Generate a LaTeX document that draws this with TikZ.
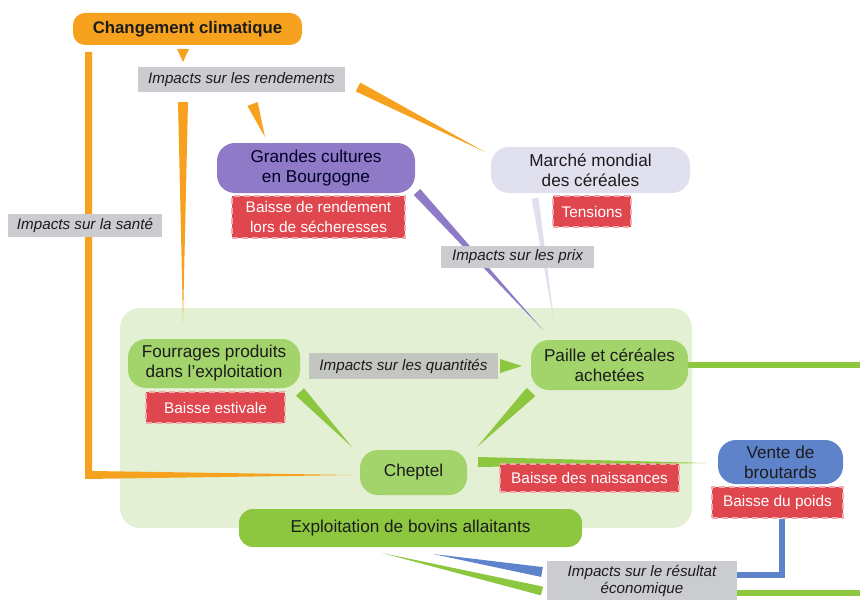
\documentclass[tikz,border=0pt]{standalone}
\usepackage{fontspec}
\setmainfont{Liberation Sans}
\usetikzlibrary{calc}
\definecolor{orangeCC}{HTML}{F6A21E}
\definecolor{grayLbl}{HTML}{CACCCF}
\definecolor{grayQ}{HTML}{C2C6BF}
\definecolor{purpleGC}{HTML}{8E7AC6}
\definecolor{lavMM}{HTML}{E1E0EF}
\definecolor{redBx}{HTML}{E0464E}
\definecolor{greenBx}{HTML}{A3D46B}
\definecolor{greenDk}{HTML}{8DC63F}
\definecolor{greenBg}{HTML}{E3F0D3}
\definecolor{blueVB}{HTML}{5F83CA}
\definecolor{txt}{HTML}{1C1C1C}
\pgfdeclarelayer{back}
\pgfdeclarelayer{links}
\pgfsetlayers{back,links,main}
% tapered connector: colour, wide end, tip, half width
\newcommand{\taper}[4]{\fill[#1] ($(#2)!#4!90:(#3)$) -- ($(#2)!#4!-90:(#3)$) -- (#3) -- cycle;}
\begin{document}
\begin{tikzpicture}[x=0.5pt, y=-0.5pt,
      box/.style={rounded corners=9pt, inner sep=0pt, align=center, text=txt,
                  font=\fontsize{8.6}{10}\selectfont},
      lblbox/.style={fill=grayLbl, inner sep=0pt, align=center, text=txt,
                  font=\fontsize{7.6}{8.6}\selectfont\itshape},
      redbox/.style={fill=redBx, draw=redBx!45!white, densely dashed, line width=0.6pt,
                  inner sep=0pt, align=center, text=white,
                  font=\fontsize{7.7}{10}\selectfont},
      thick link/.style={line width=3pt}
      ]
      \useasboundingbox (0,0) rectangle (860,599);

      % top
      \node[box, fill=orangeCC, rounded corners=6pt, minimum width=114.5pt, minimum height=16pt,
            font=\fontsize{8.4}{10}\selectfont\bfseries] (cc) at (187.5,29) {Changement climatique};
      \node[lblbox, minimum width=103.5pt, minimum height=12.5pt] (rend) at (241.5,79.5) {Impacts sur les rendements};
      \node[lblbox, minimum width=77pt, minimum height=11.5pt] (sante) at (85,225.5) {Impacts sur la santé};

      % cereals
      \node[box, fill=purpleGC, text=black!85!blue, minimum width=99pt, minimum height=25pt] (gc) at (316,168) {Grandes cultures\\en Bourgogne};
      \node[redbox, minimum width=86.5pt, minimum height=21pt] (gcr) at (318.5,217) {Baisse de rendement\\lors de sécheresses};
      \node[box, fill=lavMM, minimum width=99.5pt, minimum height=23pt] (mm) at (590.5,170) {Marché mondial\\des céréales};
      \node[redbox, minimum width=39pt, minimum height=15.5pt] (ten) at (592,211.5) {Tensions};
      \node[lblbox, minimum width=76.5pt, minimum height=11pt] (prix) at (517.5,257) {Impacts sur les prix};

      % farm
      \node[box, fill=greenBx, minimum width=86pt, minimum height=24.5pt] (four) at (214,363.5) {Fourrages produits\\dans l’exploitation};
      \node[redbox, minimum width=69.5pt, minimum height=15.5pt] (estiv) at (215.5,407.5) {Baisse estivale};
      \node[lblbox, fill=grayQ, minimum width=94.5pt, minimum height=13pt] (quant) at (403.5,366) {Impacts sur les quantités};
      \node[box, fill=greenBx, minimum width=78.5pt, minimum height=25pt] (paille) at (609.5,365) {Paille et céréales\\achetées};
      \node[box, fill=greenBx, minimum width=53.5pt, minimum height=22.5pt] (chep) at (413.5,472.5) {Cheptel};
      \node[redbox, minimum width=89.5pt, minimum height=14pt] (nais) at (589.5,478) {Baisse des naissances};
      \node[box, fill=greenDk, rounded corners=7pt, minimum width=171.5pt, minimum height=19pt] (expl) at (410.5,528) {Exploitation de bovins allaitants};

      % sales
      \node[box, fill=blueVB, minimum width=62.5pt, minimum height=22pt] (vente) at (780.5,462) {Vente de\\broutards};
      \node[redbox, minimum width=65.5pt, minimum height=15.5pt] (poids) at (777.5,502.5) {Baisse du poids};
      \node[lblbox, minimum width=95pt, minimum height=20pt] (res) at (642,581) {Impacts sur le résultat\\économique};

      % link ends
      \coordinate (ccS)    at (183,49);
      \coordinate (rendN)  at (183,62);
      \coordinate (rendS)  at (183,102);
      \coordinate (fourN)  at (183,322);
      \coordinate (rendSE) at (252.5,104);
      \coordinate (gcN)    at (265,137);
      \coordinate (rendE)  at (358,87);
      \coordinate (mmW)    at (485,152);
      \coordinate (gcSE)   at (417,192);
      \coordinate (mmS)    at (535,198);
      \coordinate (pailleN) at (543,330);
      \coordinate (pailleNb) at (555,328);
      \coordinate (quantE) at (500,366);
      \coordinate (pailleW) at (522,366);
      \coordinate (fourSE) at (300,392);
      \coordinate (chepNW) at (352,447);
      \coordinate (pailleSW) at (531,392);
      \coordinate (chepNE) at (477,447);
      \coordinate (chepE)  at (478,462);
      \coordinate (venteW) at (706,463);
      \coordinate (chepW)  at (353,475);
      \coordinate (explS)  at (433,554);
      \coordinate (explSW) at (382,553);
      \coordinate (resW)   at (542,572);
      \coordinate (resWb)  at (542,591);
      \coordinate (edgeA)  at (860,365);
      \coordinate (edgeB)  at (860,593);

      \begin{pgfonlayer}{back}
        \fill[greenBg, rounded corners=10pt] (120,308) rectangle (692,528);
      \end{pgfonlayer}

      \begin{pgfonlayer}{links}
        % climate
        \taper{orangeCC}{ccS}{rendN}{3pt}
        \fill[orangeCC] (85,52) -- (85,479) -- (chepW) -- (92,471) -- (92,52) -- cycle;
        \taper{orangeCC}{rendS}{fourN}{2.5pt}
        \taper{orangeCC}{rendSE}{gcN}{2.75pt}
        \taper{orangeCC}{rendE}{mmW}{2.5pt}
        % prices
        \taper{purpleGC}{gcSE}{pailleN}{2.2pt}
        \taper{lavMM}{mmS}{pailleNb}{1.75pt}
        % farm
        \taper{greenDk}{quantE}{pailleW}{3.5pt}
        \taper{greenDk}{fourSE}{chepNW}{2.75pt}
        \taper{greenDk}{pailleSW}{chepNE}{3pt}
        \taper{greenDk}{chepE}{venteW}{2.5pt}
        \draw[thick link, greenDk] (paille.east) -- (edgeA);
        % result
        \draw[thick link, blueVB] ([xshift=2.25pt]poids.south) |- ([yshift=3pt]res.east);
        \taper{blueVB}{resW}{explS}{2.5pt}
        \taper{greenDk}{resWb}{explSW}{2.25pt}
        \draw[thick link, greenDk] ([yshift=-6pt]res.east) -- (edgeB);
      \end{pgfonlayer}
    \end{tikzpicture}
\end{document}
